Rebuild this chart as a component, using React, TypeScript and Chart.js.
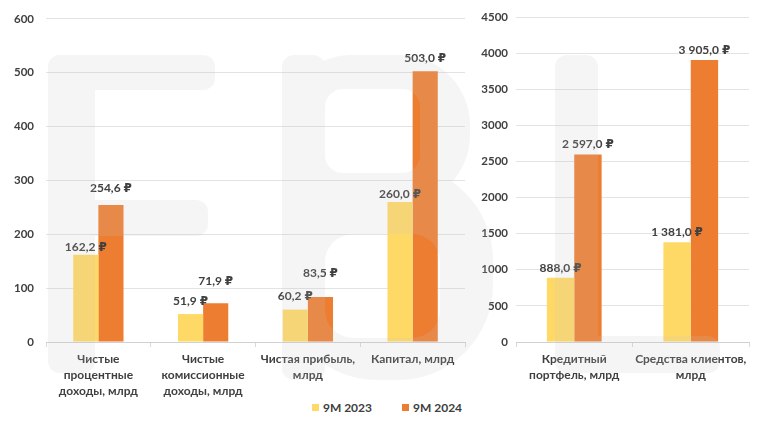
import React, { useEffect, useRef } from "react";
import { Chart, registerables } from "chart.js";

Chart.register(...registerables);

// ---- data ----
const seriesNames = ["9M 2023", "9M 2024"];
const leftCategories = [
  ["Чистые", "процентные", "доходы, млрд"],
  ["Чистые", "комиссионные", "доходы, млрд"],
  ["Чистая прибыль,", "млрд"],
  ["Капитал, млрд"],
];
const left2023 = [162.2, 51.9, 60.2, 260.0];
const left2024 = [254.6, 71.9, 83.5, 503.0];
const leftMax = 600;
const leftStep = 100;

const rightCategories = [
  ["Кредитный", "портфель, млрд"],
  ["Средства клиентов,", "млрд"],
];
const right2023 = [888.0, 1381.0];
const right2024 = [2597.0, 3905.0];
const rightMax = 4500;
const rightStep = 500;

// extra lift (px) of individual value labels, as placed in the source
const leftLift2023 = [-5, 0, 0, -5];
const leftLift2024 = [4, 9, 11, 0];
const rightLift2023 = [0, 0];
const rightLift2024 = [0, 0];

// ---- styles ----
const YELLOW = "#FFD966";
const ORANGE = "#ED7D31";
const TEXT = "#404040";
const FONT = 'Lato, "DejaVu Sans", sans-serif';

function fmt(v: number): string {
  const [i, d] = v.toFixed(1).split(".");
  const withSpaces = i.replace(/\B(?=(\d{3})+(?!\d))/g, " ");
  return `${withSpaces},${d} ₽`;
}

const valueLabels = {
  id: "valueLabels",
  afterDatasetsDraw(chart: any, _args: any, opts: any) {
    const ctx = chart.ctx;
    ctx.save();
    ctx.font = `bold 12px ${FONT}`;
    ctx.fillStyle = TEXT;
    ctx.textAlign = "center";
    ctx.textBaseline = "middle";
    chart.data.datasets.forEach((ds: any, i: number) => {
      const meta = chart.getDatasetMeta(i);
      const lifts = (opts.lifts && opts.lifts[i]) || [];
      meta.data.forEach((bar: any, j: number) => {
        ctx.fillText(fmt(ds.data[j]), bar.x, bar.y - (opts.gap ?? 12) - (lifts[j] || 0));
      });
    });
    ctx.restore();
  },
};

function makeConfig(
  labels: string[][],
  a: number[],
  b: number[],
  lifts: number[][],
  max: number,
  step: number,
  yWidth: number,
  xHeight: number,
  padRight: number,
  padTop: number,
  tickPad: number,
  catPct: number,
  gap: number
): any {
  return {
    type: "bar",
    data: {
      labels,
      datasets: [
        { label: seriesNames[0], data: a, backgroundColor: YELLOW, barPercentage: 1, categoryPercentage: catPct },
        { label: seriesNames[1], data: b, backgroundColor: ORANGE, barPercentage: 1, categoryPercentage: catPct },
      ],
    },
    options: {
      animation: false,
      responsive: false,
      maintainAspectRatio: false,
      layout: { padding: { left: 0, right: padRight, top: padTop, bottom: 0 } },
      plugins: {
        legend: { display: false },
        tooltip: { enabled: false },
        valueLabels: { gap, lifts },
      },
      scales: {
        x: {
          grid: { drawOnChartArea: false, drawTicks: true, tickLength: 5, color: "#d9d9d9" },
          border: { display: true, color: "#d0d0d0" },
          ticks: {
            color: TEXT,
            font: { family: FONT, size: 12, weight: "bold", lineHeight: 1.35 },
            padding: 4,
            maxRotation: 0,
            autoSkip: false,
          },
          afterFit: (s: any) => {
            s.height = xHeight;
          },
        },
        y: {
          min: 0,
          max,
          grid: { color: "#e3e3e3", drawTicks: false },
          border: { display: false },
          ticks: {
            stepSize: step,
            color: TEXT,
            padding: tickPad,
            font: { family: FONT, size: 11.5, weight: "bold" },
            callback: (v: any) => String(v),
          },
          afterFit: (s: any) => {
            s.width = yWidth;
          },
        },
      },
    },
    plugins: [valueLabels],
  };
}

function ChartCanvas(props: { config: any; width: number; height: number; left: number }) {
  const ref = useRef<HTMLCanvasElement | null>(null);
  useEffect(() => {
    if (!ref.current) return;
    const chart = new Chart(ref.current, props.config);
    return () => chart.destroy();
  }, []);
  return (
    <div style={{ position: "absolute", left: props.left, top: 0, width: props.width, height: props.height }}>
      <canvas ref={ref} width={props.width} height={props.height} style={{ width: props.width, height: props.height }} />
    </div>
  );
}

// faint logo watermark laid over the whole picture
function Watermark() {
  return (
    <svg
      width={758}
      height={426}
      style={{ position: "absolute", left: 0, top: 0, pointerEvents: "none" }}
    >
      <defs>
        <mask id="wm">
          <rect x={0} y={0} width={758} height={426} fill="black" />
          {/* Б */}
          <rect x={48} y={55} width={167} height={35} rx={12} fill="white" />
          <rect x={48} y={55} width={47} height={318} rx={12} fill="white" />
          <rect x={48} y={200} width={160} height={36} rx={12} fill="white" />
          {/* В */}
          <rect x={282} y={55} width={43} height={325} rx={12} fill="white" />
          <rect x={282} y={55} width={188} height={150} rx={70} fill="white" />
          <rect x={282} y={165} width={211} height={215} rx={95} fill="white" />
          <rect x={325} y={89} width={95} height={84} rx={18} fill="black" />
          <rect x={325} y={234} width={115} height={104} rx={28} fill="black" />
          {/* right L */}
          <rect x={555} y={55} width={43} height={318} rx={12} fill="white" />
          <rect x={555} y={336} width={165} height={37} rx={12} fill="white" />
        </mask>
      </defs>
      <rect x={0} y={0} width={758} height={426} fill="rgba(195,195,195,0.17)" mask="url(#wm)" />
    </svg>
  );
}

export default function App() {
  const leftCfg = makeConfig(
    leftCategories, left2023, left2024, [leftLift2023, leftLift2024],
    leftMax, leftStep, 46, 58, 5, 16, 12, 0.48, 13
  );
  const rightCfg = makeConfig(
    rightCategories, right2023, right2024, [rightLift2023, rightLift2024],
    rightMax, rightStep, 46, 58, 9, 17, 8, 0.47, 10
  );
  const sq = (c: string) => (
    <span style={{ display: "inline-block", width: 7, height: 7, background: c, marginRight: 4 }} />
  );
  return (
    <div style={{ position: "absolute", left: 0, top: 0, width: 758, height: 426, background: "#fff", overflow: "hidden" }}>
      <ChartCanvas config={leftCfg} width={470} height={400} left={0} />
      <ChartCanvas config={rightCfg} width={288} height={400} left={470} />
      <div
        style={{
          position: "absolute",
          left: 0,
          top: 400,
          width: 774,
          display: "flex",
          justifyContent: "center",
          alignItems: "center",
          gap: 30,
          fontFamily: FONT,
          fontWeight: "bold",
          fontSize: 12,
          color: TEXT,
        }}
      >
        <span style={{ display: "flex", alignItems: "center" }}>
          {sq(YELLOW)}
          {seriesNames[0]}
        </span>
        <span style={{ display: "flex", alignItems: "center" }}>
          {sq(ORANGE)}
          {seriesNames[1]}
        </span>
      </div>
      <Watermark />
    </div>
  );
}
